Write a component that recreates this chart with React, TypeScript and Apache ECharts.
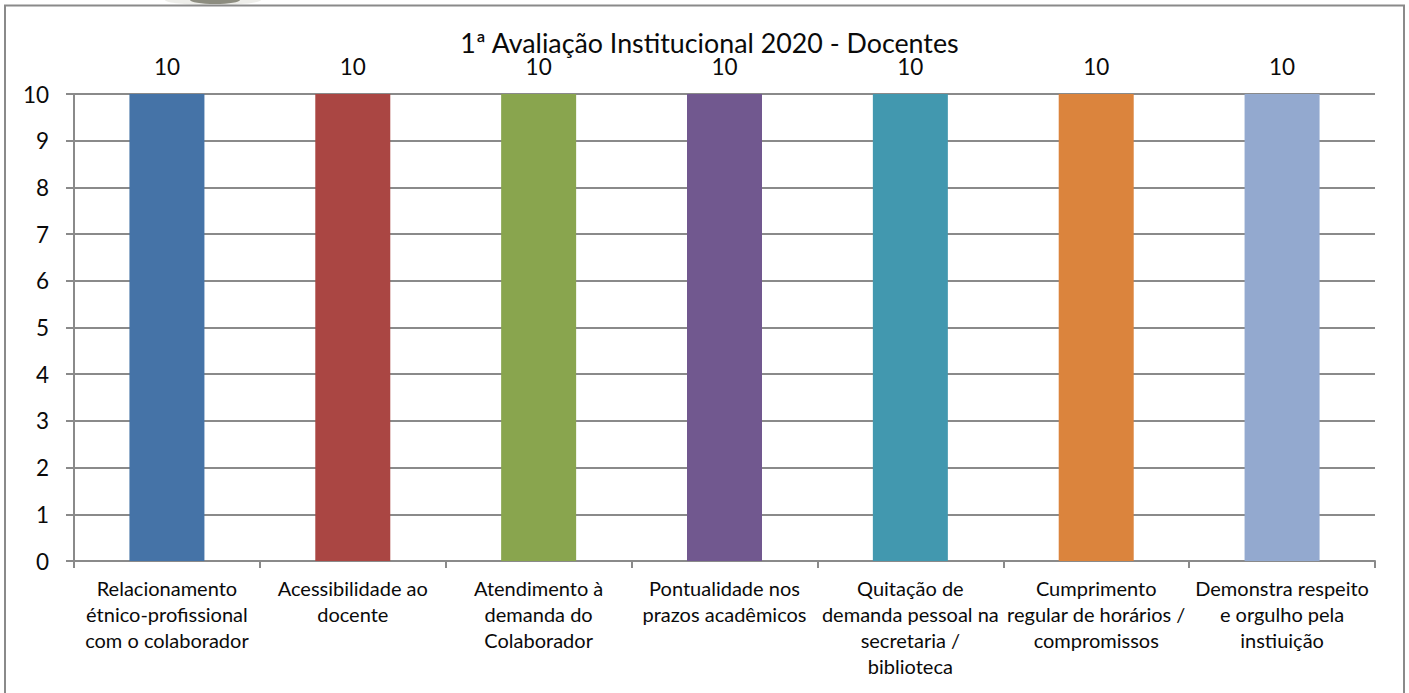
import React, { useEffect, useRef } from "react";
import * as echarts from "echarts";

const titleText = "1ª Avaliação Institucional 2020 - Docentes";
const categories = [
  "Relacionamento\nétnico-profissional\ncom o colaborador",
  "Acessibilidade ao\ndocente",
  "Atendimento à\ndemanda do\nColaborador",
  "Pontualidade nos\nprazos acadêmicos",
  "Quitação de\ndemanda pessoal na\nsecretaria /\nbiblioteca",
  "Cumprimento\nregular de horários /\ncompromissos",
  "Demonstra respeito\ne orgulho pela\ninstiuição",
];
const values = [10, 10, 10, 10, 10, 10, 10];
const colors = ["#4573A7", "#AA4643", "#89A54E", "#71588F", "#4298AF", "#DB843D", "#93A9CF"];
const FONT = "Lato, 'Open Sans', sans-serif";
const AXIS = "#8a8a8a";

export default function App() {
  const ref = useRef<HTMLDivElement>(null);
  useEffect(() => {
    const chart = echarts.init(ref.current!, null, { renderer: "svg" });
    chart.setOption({
      animation: false,
      backgroundColor: "#ffffff",
      title: {
        text: titleText,
        left: 704.5,
        top: 24,
        textAlign: "center",
        textStyle: { fontFamily: FONT, fontWeight: "normal", fontSize: 26.8, color: "#0a0a0a" },
      },
      grid: { left: 74, right: 34, top: 94, bottom: 132 },
      xAxis: {
        type: "category",
        data: categories,
        axisLine: { lineStyle: { color: AXIS, width: 2 } },
        axisTick: { show: true, length: 7, alignWithLabel: false, lineStyle: { color: AXIS, width: 2 } },
        axisLabel: {
          interval: 0,
          fontFamily: FONT,
          fontSize: 20,
          lineHeight: 26,
          color: "#0a0a0a",
          margin: 14,
          verticalAlign: "top",
        },
      },
      yAxis: {
        type: "value",
        min: 0,
        max: 10,
        interval: 1,
        axisLine: { show: true, lineStyle: { color: AXIS, width: 2 } },
        axisTick: { show: true, length: 8, lineStyle: { color: AXIS, width: 2 } },
        splitLine: { show: true, lineStyle: { color: AXIS, width: 2 } },
        axisLabel: { fontFamily: FONT, fontSize: 22.5, color: "#0a0a0a", margin: 25 },
      },
      series: [
        {
          type: "bar",
          barWidth: 75,
          data: values.map((v, i) => ({ value: v, itemStyle: { color: colors[i] } })),
          label: {
            show: true,
            position: "top",
            distance: 16,
            fontFamily: FONT,
            fontSize: 22.5,
            color: "#0a0a0a",
          },
        },
      ],
      graphic: [
        { type: "ellipse", shape: { cx: 213, cy: 0, rx: 48, ry: 5 }, style: { fill: "#eeeeea" }, z: 1 },
        { type: "ellipse", shape: { cx: 215, cy: 0, rx: 25, ry: 4 }, style: { fill: "#8d8d80" }, z: 2 },
        {
          type: "rect",
          shape: { x: 5, y: 5.5, width: 1399, height: 700 },
          style: { fill: "none", stroke: "#8a8a8a", lineWidth: 2 },
          z: 3,
        },
      ],
    });
    return () => chart.dispose();
  }, []);
  return <div ref={ref} style={{ position: "absolute", left: 0, top: 0, width: 1409, height: 693 }} />;
}
